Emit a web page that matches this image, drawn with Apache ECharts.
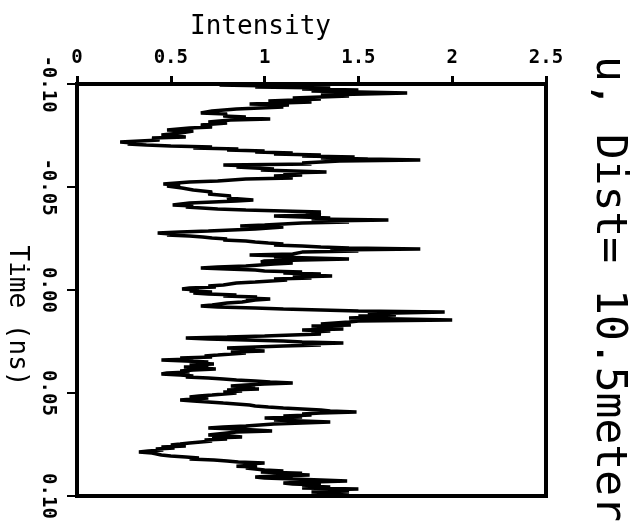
<!DOCTYPE html>
<html>
<head>
<meta charset="utf-8">
<script src="https://cdn.jsdelivr.net/npm/echarts@6/dist/echarts.min.js"></script>
<style>
  html, body { margin: 0; padding: 0; background: #fff; }
  #chart { width: 644px; height: 532px; }
</style>
</head>
<body>
<div id="chart"></div>
<script>
// time of each sample (ns)
var timeNs = [
  -0.0995, -0.0990, -0.0985, -0.0981, -0.0976, -0.0971, -0.0966, -0.0956, -0.0947, -0.0942,
  -0.0932, -0.0927, -0.0918, -0.0913, -0.0903, -0.0898, -0.0893, -0.0888, -0.0879, -0.0869,
  -0.0859, -0.0854, -0.0845, -0.0840, -0.0835, -0.0830, -0.0825, -0.0816, -0.0811, -0.0801,
  -0.0791, -0.0786, -0.0777, -0.0772, -0.0762, -0.0752, -0.0743, -0.0738, -0.0728, -0.0718,
  -0.0714, -0.0709, -0.0704, -0.0699, -0.0694, -0.0689, -0.0684, -0.0680, -0.0675, -0.0670,
  -0.0665, -0.0660, -0.0655, -0.0650, -0.0646, -0.0641, -0.0636, -0.0631, -0.0626, -0.0621,
  -0.0616, -0.0612, -0.0607, -0.0602, -0.0597, -0.0592, -0.0587, -0.0583, -0.0573, -0.0568,
  -0.0558, -0.0553, -0.0544, -0.0539, -0.0529, -0.0524, -0.0515, -0.0510, -0.0505, -0.0495,
  -0.0485, -0.0476, -0.0466, -0.0456, -0.0447, -0.0437, -0.0432, -0.0422, -0.0413, -0.0408,
  -0.0403, -0.0393, -0.0388, -0.0384, -0.0379, -0.0374, -0.0364, -0.0359, -0.0354, -0.0350,
  -0.0345, -0.0340, -0.0335, -0.0330, -0.0325, -0.0316, -0.0311, -0.0306, -0.0296, -0.0286,
  -0.0282, -0.0277, -0.0272, -0.0267, -0.0262, -0.0257, -0.0252, -0.0248, -0.0243, -0.0238,
  -0.0233, -0.0228, -0.0223, -0.0218, -0.0214, -0.0209, -0.0204, -0.0199, -0.0194, -0.0189,
  -0.0184, -0.0175, -0.0170, -0.0165, -0.0160, -0.0155, -0.0150, -0.0146, -0.0141, -0.0136,
  -0.0131, -0.0126, -0.0116, -0.0112, -0.0107, -0.0102, -0.0097, -0.0092, -0.0087, -0.0083,
  -0.0078, -0.0073, -0.0068, -0.0063, -0.0058, -0.0053, -0.0049, -0.0039, -0.0034, -0.0024,
  -0.0019, -0.0015, -0.0010, -0.0005, 0.0000, 0.0005, 0.0010, 0.0015, 0.0019, 0.0024,
  0.0029, 0.0034, 0.0039, 0.0044, 0.0049, 0.0058, 0.0063, 0.0073, 0.0078, 0.0083,
  0.0087, 0.0092, 0.0097, 0.0102, 0.0107, 0.0112, 0.0117, 0.0121, 0.0126, 0.0131,
  0.0136, 0.0146, 0.0150, 0.0155, 0.0165, 0.0170, 0.0175, 0.0180, 0.0184, 0.0189,
  0.0194, 0.0199, 0.0204, 0.0214, 0.0218, 0.0223, 0.0228, 0.0233, 0.0238, 0.0243,
  0.0248, 0.0252, 0.0257, 0.0262, 0.0267, 0.0272, 0.0277, 0.0282, 0.0286, 0.0291,
  0.0296, 0.0301, 0.0306, 0.0316, 0.0320, 0.0325, 0.0330, 0.0335, 0.0340, 0.0345,
  0.0350, 0.0354, 0.0359, 0.0364, 0.0369, 0.0374, 0.0379, 0.0384, 0.0388, 0.0393,
  0.0398, 0.0403, 0.0408, 0.0413, 0.0417, 0.0422, 0.0427, 0.0432, 0.0437, 0.0442,
  0.0447, 0.0451, 0.0456, 0.0461, 0.0466, 0.0471, 0.0476, 0.0481, 0.0485, 0.0490,
  0.0495, 0.0500, 0.0510, 0.0515, 0.0519, 0.0524, 0.0529, 0.0534, 0.0539, 0.0544,
  0.0549, 0.0553, 0.0558, 0.0563, 0.0568, 0.0573, 0.0578, 0.0583, 0.0587, 0.0592,
  0.0597, 0.0602, 0.0607, 0.0612, 0.0617, 0.0621, 0.0626, 0.0631, 0.0636, 0.0641,
  0.0646, 0.0651, 0.0660, 0.0665, 0.0670, 0.0675, 0.0680, 0.0685, 0.0689, 0.0699,
  0.0704, 0.0709, 0.0714, 0.0718, 0.0723, 0.0728, 0.0733, 0.0743, 0.0748, 0.0752,
  0.0757, 0.0762, 0.0767, 0.0772, 0.0777, 0.0782, 0.0786, 0.0791, 0.0801, 0.0806,
  0.0811, 0.0816, 0.0820, 0.0825, 0.0830, 0.0835, 0.0840, 0.0845, 0.0850, 0.0855,
  0.0859, 0.0864, 0.0874, 0.0879, 0.0884, 0.0889, 0.0893, 0.0898, 0.0903, 0.0908,
  0.0913, 0.0918, 0.0922, 0.0927, 0.0932, 0.0937, 0.0942, 0.0947, 0.0951, 0.0956,
  0.0961, 0.0966, 0.0971, 0.0976, 0.0981, 0.0985, 0.0990, 0.0995
];
// intensity at each sample
var intensity = [
  0.76, 1.05, 0.95, 1.35, 1.2, 1.5, 1.25, 1.76, 1.3, 1.45,
  1.15, 1.3, 1.02, 1.25, 0.92, 1.13, 0.98, 1.1, 0.85, 0.72,
  0.66, 0.8, 0.78, 0.9, 0.85, 1.03, 0.82, 0.7, 0.8, 0.66,
  0.72, 0.6, 0.48, 0.62, 0.55, 0.45, 0.58, 0.4, 0.44, 0.23,
  0.3, 0.27, 0.37, 0.5, 0.72, 0.62, 0.86, 0.8, 1.0, 0.95,
  1.15, 1.05, 1.3, 1.2, 1.48, 1.3, 1.55, 1.83, 1.4, 1.3,
  1.2, 1.25, 0.78, 0.95, 0.85, 0.95, 1.05, 0.98, 1.33, 1.1,
  1.2, 1.05, 1.15, 0.9, 0.75, 0.6, 0.46, 0.55, 0.48, 0.56,
  0.62, 0.72, 0.7, 0.82, 0.8, 0.94, 0.85, 0.6, 0.51, 0.62,
  0.58, 0.75, 0.9, 1.1, 1.3, 1.22, 1.3, 1.05, 1.2, 1.35,
  1.25, 1.66, 1.3, 1.45, 1.2, 1.0, 0.87, 1.1, 0.95, 0.7,
  0.55, 0.43, 0.5, 0.48, 0.6, 0.67, 0.72, 0.8, 0.78, 0.9,
  0.95, 1.02, 1.1, 1.05, 1.2, 1.3, 1.45, 1.83, 1.35, 1.5,
  1.2, 1.15, 0.92, 1.1, 1.05, 1.25, 1.45, 1.2, 1.0, 0.98,
  1.15, 1.05, 0.9, 0.75, 0.66, 0.8, 0.95, 1.0, 1.2, 1.1,
  1.3, 1.2, 1.36, 1.15, 1.25, 1.05, 1.12, 0.95, 0.85, 0.78,
  0.7, 0.74, 0.6, 0.56, 0.65, 0.6, 0.72, 0.62, 0.7, 0.85,
  0.78, 0.96, 0.9, 1.03, 0.95, 0.88, 0.8, 0.72, 0.66, 0.75,
  0.95, 1.1, 1.3, 1.5, 1.96, 1.7, 1.55, 1.7, 1.5, 1.6,
  1.45, 2.0, 1.5, 1.45, 1.3, 1.46, 1.25, 1.4, 1.3, 1.42,
  1.2, 1.35, 1.25, 1.3, 1.15, 1.0, 0.8, 0.58, 0.7, 0.9,
  1.1, 1.2, 1.42, 1.2, 1.3, 1.1, 0.95, 0.8, 0.95, 0.88,
  1.0, 0.82, 0.9, 0.75, 0.68, 0.72, 0.55, 0.62, 0.45, 0.58,
  0.7, 0.62, 0.73, 0.6, 0.7, 0.57, 0.66, 0.74, 0.62, 0.55,
  0.6, 0.48, 0.45, 0.55, 0.62, 0.58, 0.7, 0.78, 0.85, 0.95,
  1.03, 1.15, 1.0, 0.9, 0.82, 0.95, 0.85, 0.97, 0.8, 0.88,
  0.78, 0.85, 0.72, 0.65, 0.6, 0.7, 0.62, 0.55, 0.62, 0.7,
  0.78, 0.85, 0.92, 0.95, 1.02, 1.1, 1.2, 1.3, 1.35, 1.49,
  1.3, 1.2, 1.25, 1.1, 1.2, 1.0, 1.15, 1.05, 1.2, 1.35,
  1.2, 1.05, 0.9, 0.78, 0.7, 0.85, 0.95, 1.04, 0.85, 0.75,
  0.7, 0.82, 0.88, 0.72, 0.8, 0.68, 0.72, 0.6, 0.55, 0.5,
  0.58, 0.45, 0.52, 0.42, 0.46, 0.38, 0.33, 0.4, 0.45, 0.5,
  0.58, 0.65, 0.6, 0.73, 0.8, 0.86, 1.0, 0.9, 0.95, 0.85,
  0.96, 0.9, 1.0, 1.1, 0.98, 1.2, 1.1, 1.24, 1.05, 0.95,
  1.0, 1.15, 1.3, 1.44, 1.25, 1.1, 1.15, 1.3, 1.2, 1.35,
  1.2, 1.5, 1.3, 1.45, 1.25, 1.4, 1.3, 1.45
];
var intensityTicks = [0, 0.5, 1, 1.5, 2, 2.5];
var timeTicks = [-0.10, -0.05, 0.00, 0.05, 0.10];

var mono = "'DejaVu Sans Mono', monospace";

// pair up samples for the line
var points = [];
for (var i = 0; i < timeNs.length; i++) {
  points.push([intensity[i], timeNs[i]]);
}

var chart = echarts.init(document.getElementById("chart"), null, { renderer: "canvas" });

var option = {
  animation: false,
  backgroundColor: "#ffffff",
  grid: {
    left: 77,
    right: 98,
    top: 84,
    bottom: 36,
    show: true,
    borderColor: "#000",
    borderWidth: 4,
    outerBoundsMode: "none"
  },
  xAxis: {
    type: "value",
    position: "top",
    min: intensityTicks[0],
    max: intensityTicks[intensityTicks.length - 1],
    interval: 0.5,
    name: "Intensity",
    nameLocation: "middle",
    nameGap: 44,
    nameTextStyle: {
      fontFamily: mono,
      fontSize: 26,
      color: "#000",
      padding: [0, 102, 0, 0]
    },
    axisLine: { show: true, onZero: false, lineStyle: { color: "#000", width: 4 } },
    axisTick: { show: true, length: 8, lineStyle: { color: "#000", width: 3 } },
    axisLabel: {
      fontFamily: mono,
      fontSize: 19,
      fontWeight: "bold",
      color: "#000",
      margin: 16
    },
    splitLine: { show: false }
  },
  yAxis: {
    type: "value",
    inverse: true,
    min: timeTicks[0],
    max: timeTicks[timeTicks.length - 1],
    interval: 0.05,
    name: "Time (ns)",
    nameLocation: "middle",
    nameRotate: -90,
    nameGap: 46,
    nameTextStyle: {
      fontFamily: mono,
      fontSize: 26,
      color: "#000",
      padding: [0, 0, 0, 52]
    },
    axisLine: { show: true, onZero: false, lineStyle: { color: "#000", width: 4 } },
    axisTick: { show: true, length: 10, lineStyle: { color: "#000", width: 2 } },
    axisLabel: {
      fontFamily: mono,
      fontSize: 19,
      fontWeight: "bold",
      color: "#000",
      rotate: -90,
      margin: 20,
      formatter: function (v) { return v.toFixed(2); }
    },
    splitLine: { show: false }
  },
  graphic: [
    {
      type: "text",
      x: 608,
      y: 289,
      rotation: -Math.PI / 2,
      style: {
        text: "u, Dist= 10.5meter",
        font: "43px 'DejaVu Sans Mono', monospace",
        fill: "#000",
        textAlign: "center",
        textVerticalAlign: "middle"
      }
    }
  ],
  series: [
    {
      type: "line",
      data: points,
      showSymbol: false,
      symbol: "none",
      lineStyle: { color: "#000", width: 3.5 },
      clip: true
    }
  ]
};

chart.setOption(option);
</script>
</body>
</html>
